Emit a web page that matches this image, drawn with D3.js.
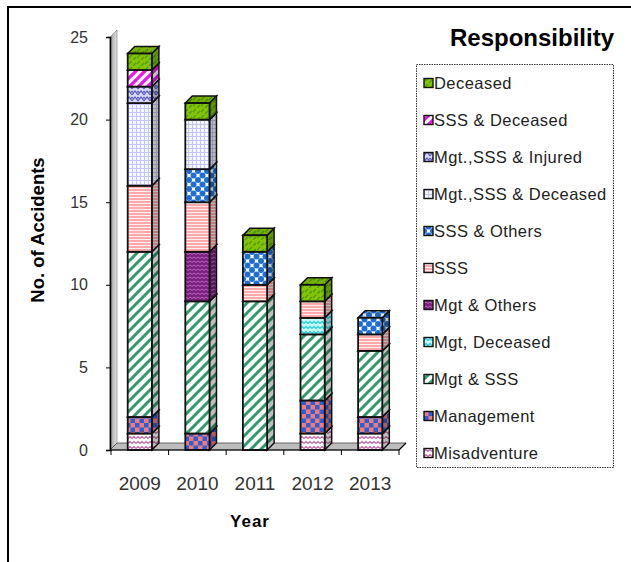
<!DOCTYPE html>
<html>
<head>
<meta charset="utf-8">
<script src="https://cdn.jsdelivr.net/npm/d3@7"></script>
<style>
  body { margin: 0; background: #fff; }
  svg { display: block; }
  text { font-family: "Liberation Sans", Arial, sans-serif; }
</style>
</head>
<body>
<svg id="chart" width="631" height="562"></svg>
<script>
// Accident counts by responsibility, stacked bottom to top in this order
const years = ["2009", "2010", "2011", "2012", "2013"];
const seriesNames = [
  "Misadventure", "Management", "Mgt & SSS", "Mgt, Deceased", "Mgt & Others",
  "SSS", "SSS & Others", "Mgt.,SSS & Deceased", "Mgt.,SSS & Injured",
  "SSS & Deceased", "Deceased"
];
const misadventure     = [1, 0, 0, 1, 1];
const management       = [1, 1, 0, 2, 1];
const mgtSss           = [10, 8, 9, 4, 4];
const mgtDeceased      = [0, 0, 0, 1, 0];
const mgtOthers        = [0, 3, 0, 0, 0];
const sss              = [4, 3, 1, 1, 1];
const sssOthers        = [0, 2, 2, 0, 1];
const mgtSssDeceased   = [5, 3, 0, 0, 0];
const mgtSssInjured    = [1, 0, 0, 0, 0];
const sssDeceased      = [1, 0, 0, 0, 0];
const deceased         = [1, 1, 1, 1, 0];
const yTicks = [0, 5, 10, 15, 20, 25];

const seriesValues = [misadventure, management, mgtSss, mgtDeceased, mgtOthers,
  sss, sssOthers, mgtSssDeceased, mgtSssInjured, sssDeceased, deceased];

const rows = years.map((yr, i) => {
  const r = { year: yr };
  seriesNames.forEach((s, k) => { r[s] = seriesValues[k][i]; });
  return r;
});
const stacked = d3.stack().keys(seriesNames)(rows);

const svg = d3.select("#chart");
const defs = svg.append("defs");

// ---- fill patterns, one per series ----
function pat(id, w, h, draw, bg) {
  const p = defs.append("pattern").attr("id", id)
    .attr("patternUnits", "userSpaceOnUse").attr("width", w).attr("height", h);
  p.append("rect").attr("width", w).attr("height", h).attr("fill", bg);
  draw(p);
}
const pid = k => "pat" + k;

// Misadventure: mauve zigzag
pat(pid(0), 8, 5, p => p.append("path").attr("d", "M0,3.5 L2,1.5 L4,3.5 L6,1.5 L8,3.5")
  .attr("fill", "none").attr("stroke", "#c0609c").attr("stroke-width", 1.1), "#fff");
// Management: blue / salmon checkerboard
pat(pid(1), 9, 9, p => {
  p.append("rect").attr("width", 4.5).attr("height", 4.5).attr("fill", "#2a5fd6");
  p.append("rect").attr("x", 4.5).attr("y", 4.5).attr("width", 4.5).attr("height", 4.5).attr("fill", "#2a5fd6");
}, "#f27b78");
// Mgt & SSS: green diagonal stripes
pat(pid(2), 10, 10, p => p.append("path").attr("d", "M-2,12 L12,-2 M-7,7 L7,-7 M3,17 L17,3")
  .attr("stroke", "#2f9a6a").attr("stroke-width", 3), "#fff");
// Mgt, Deceased: cyan zigzag
pat(pid(3), 8, 5, p => p.append("path").attr("d", "M0,3.5 L2,1.5 L4,3.5 L6,1.5 L8,3.5")
  .attr("fill", "none").attr("stroke", "#30d0dc").attr("stroke-width", 1.4), "#c8f8f8");
// Mgt & Others: purple with pale wavy lines
pat(pid(4), 8, 4, p => p.append("path").attr("d", "M0,2.5 L2,1 L4,2.5 L6,1 L8,2.5")
  .attr("fill", "none").attr("stroke", "#c070c0").attr("stroke-width", 0.9), "#7c1f80");
// SSS: pink with fine white rules
pat(pid(5), 4, 3, p => p.append("rect").attr("y", 2).attr("width", 4).attr("height", 1)
  .attr("fill", "#fff").attr("opacity", 0.8), "#ffa9aa");
// SSS & Others: blue blobs on white
pat(pid(6), 9, 9, p => {
  [[0, 0], [9, 0], [0, 9], [9, 9], [4.5, 4.5]].forEach(([cx, cy]) =>
    p.append("circle").attr("cx", cx).attr("cy", cy).attr("r", 3).attr("fill", "#1f6fd2"));
}, "#fff");
// Mgt.,SSS & Deceased: lavender plaid
pat(pid(7), 4, 4, p => {
  p.append("rect").attr("width", 4).attr("height", 1).attr("fill", "#c4c4f4");
  p.append("rect").attr("width", 1).attr("height", 4).attr("fill", "#c4c4f4");
}, "#f6f6ff");
// Mgt.,SSS & Injured: violet weave
pat(pid(8), 6, 6, p => p.append("path").attr("d", "M0,5 L3,1 L6,5 M0,1 L1.5,3 M4.5,3 L6,1")
  .attr("fill", "none").attr("stroke", "#5c5cc0").attr("stroke-width", 1.2), "#d8d8f4");
// SSS & Deceased: magenta diagonal stripes
pat(pid(9), 9, 9, p => p.append("path").attr("d", "M-2,11 L11,-2 M-7,7 L7,-7 M2,16 L16,2")
  .attr("stroke", "#f010f0").attr("stroke-width", 3.2), "#fff");
// Deceased: yellow-green with darker dashes
pat(pid(10), 8, 6, p => p.append("path").attr("d", "M1,4 L4,1 M5,6 L8,3")
  .attr("stroke", "#4f9a10").attr("stroke-width", 1.4), "#84c400");

// ---- layout ----
const depth = 7;
const y = d3.scaleLinear().domain([0, 25]).range([450, 37]);
const x = d3.scaleBand().domain(years).range([111, 399]).padding(0);
const barW = x.bandwidth() * 0.42;

// outer frame (top and left edges)
svg.append("path").attr("d", "M8,562 L8,7 L631,7")
  .attr("fill", "none").attr("stroke", "#000").attr("stroke-width", 2);

// side wall
const wall = defs.append("linearGradient").attr("id", "wallGrad");
wall.append("stop").attr("offset", "0").attr("stop-color", "#9a9a9a");
wall.append("stop").attr("offset", "1").attr("stop-color", "#e4e4e4");
svg.append("path")
  .attr("d", `M110,${y(0)} L110,${y(25)} L${110 + depth},${y(25) - depth} L${110 + depth},${y(0) - depth} Z`)
  .attr("fill", "url(#wallGrad)").attr("stroke", "#777").attr("stroke-width", 0.6);

// floor
svg.append("path")
  .attr("d", `M110,${y(0)} L${110 + depth},${y(0) - depth} L${399 + depth},${y(0) - depth} L399,${y(0)} Z`)
  .attr("fill", "#bdbdbd").attr("stroke", "#444").attr("stroke-width", 0.8);

// bars
const gBars = svg.append("g");
stacked.forEach((layer, k) => {
  layer.forEach((d, i) => {
    if (d[1] - d[0] <= 0) return;
    const x0 = x(years[i]) + (x.bandwidth() - barW) / 2, x1 = x0 + barW;
    const yb = y(d[0]), yt = y(d[1]);
    const fill = `url(#${pid(k)})`;
    const side = `M${x1},${yb} L${x1},${yt} L${x1 + depth},${yt - depth} L${x1 + depth},${yb - depth} Z`;
    const top = `M${x0},${yt} L${x0 + depth},${yt - depth} L${x1 + depth},${yt - depth} L${x1},${yt} Z`;
    const g = gBars.append("g");
    g.append("path").attr("d", side).attr("fill", fill);
    g.append("path").attr("d", side).attr("fill", "#000").attr("fill-opacity", 0.25)
      .attr("stroke", "#111").attr("stroke-width", 1.5);
    g.append("path").attr("d", top).attr("fill", fill);
    g.append("path").attr("d", top).attr("fill", "#000").attr("fill-opacity", 0.1)
      .attr("stroke", "#111").attr("stroke-width", 1.5);
    g.append("rect").attr("x", x0).attr("y", yt).attr("width", barW).attr("height", yb - yt)
      .attr("fill", fill).attr("stroke", "#111").attr("stroke-width", 1.8);
  });
});

// y axis
const yAxis = svg.append("g").attr("transform", "translate(110,0)")
  .call(d3.axisLeft(y).tickValues(yTicks).tickSize(4).tickPadding(18));
yAxis.select(".domain").attr("stroke", "#000").attr("stroke-width", 1.6);
yAxis.selectAll(".tick line").attr("stroke", "#000");
yAxis.selectAll("text").attr("font-size", 16).attr("fill", "#333")
  .attr("font-family", "'Liberation Sans', Arial, sans-serif");

// x axis
const xAxis = svg.append("g").attr("transform", `translate(0,${y(0)})`);
xAxis.append("line").attr("x1", 110).attr("x2", 399).attr("stroke", "#000").attr("stroke-width", 1.2);
xAxis.append("line").attr("x1", 399).attr("y1", 0).attr("x2", 399 + depth).attr("y2", -depth)
  .attr("stroke", "#000").attr("stroke-width", 1.2);
const bounds = years.map(v => x(v)).concat([x.range()[1]]);
xAxis.selectAll("line.tk").data(bounds).join("line").attr("class", "tk")
  .attr("x1", d => d).attr("x2", d => d).attr("y1", 0).attr("y2", 5).attr("stroke", "#000");
xAxis.selectAll("text.yr").data(years).join("text").attr("class", "yr")
  .attr("x", d => x(d) + x.bandwidth() / 2).attr("y", 40)
  .attr("text-anchor", "middle").attr("font-size", 19).attr("fill", "#333").text(d => d);

// axis titles
svg.append("text").attr("x", 250).attr("y", 527).attr("text-anchor", "middle")
  .attr("font-size", 17).attr("font-weight", "bold").attr("letter-spacing", 1).text("Year");
svg.append("text").attr("transform", "translate(44,230) rotate(-90)").attr("text-anchor", "middle")
  .attr("font-size", 18.5).attr("font-weight", "bold").text("No. of Accidents");

// legend
svg.append("text").attr("x", 614).attr("y", 46).attr("text-anchor", "end")
  .attr("font-size", 24).attr("font-weight", "bold").text("Responsibility");
svg.append("rect").attr("x", 416.5).attr("y", 64.5).attr("width", 197).attr("height", 403)
  .attr("fill", "#fff").attr("stroke", "#333").attr("stroke-dasharray", "1.5,1");
const legendOrder = seriesNames.map((s, k) => k).reverse();
const lg = svg.append("g").selectAll("g").data(legendOrder).join("g")
  .attr("transform", (k, j) => `translate(424,${83 + j * 37})`);
lg.append("rect").attr("x", 0).attr("y", -4.5).attr("width", 9).attr("height", 9)
  .attr("fill", k => `url(#${pid(k)})`).attr("stroke", "#111").attr("stroke-width", 1.4);
lg.append("text").attr("x", 10).attr("y", 6).attr("font-size", 16.5).attr("letter-spacing", 0.45)
  .attr("font-family", "'DejaVu Sans', Verdana, sans-serif").attr("fill", "#222")
  .text(k => seriesNames[k]);
</script>
</body>
</html>
